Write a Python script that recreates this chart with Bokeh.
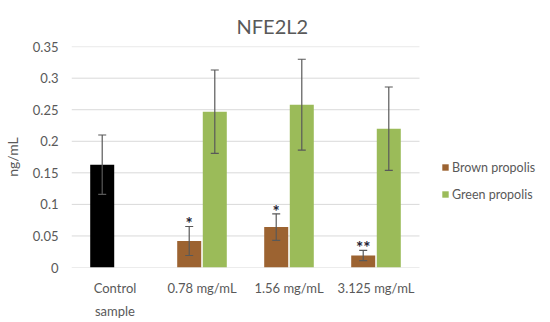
from bokeh.plotting import figure
from bokeh.models import (ColumnDataSource, Whisker, TeeHead, Legend,
                          LegendItem, Range1d, Title, FixedTicker)
from bokeh.core.properties import value
from bokeh.embed import file_html
from bokeh.resources import INLINE

categories = ["Control\nsample", "0.78 mg/mL", "1.56 mg/mL", "3.125 mg/mL"]
control_value = [0.163]
control_err = [0.047]
brown_values = [0.042, 0.064, 0.019]
brown_err = [0.023, 0.021, 0.008]
green_values = [0.247, 0.258, 0.220]
green_err = [0.066, 0.072, 0.066]
brown_marks = ["*", "*", "**"]
y_ticks = [0, 0.05, 0.1, 0.15, 0.2, 0.25, 0.3, 0.35]
y_tick_labels = ["0", "0.05", "0.1", "0.15", "0.2", "0.25", "0.3", "0.35"]

FONT = "Lato"
GRAY = "#595959"
BLACK = "#000000"
BROWN = "#9C6331"
GREEN = "#9BBB59"
OFF = 0.147
BW = 0.276

centers = [i + 0.5 for i in range(len(categories))]
n = len(categories)

ctrl = ColumnDataSource(dict(
    x=[c - OFF for c in centers[:1]], top=control_value,
    up=[v + e for v, e in zip(control_value, control_err)],
    lo=[v - e for v, e in zip(control_value, control_err)]))
brown = ColumnDataSource(dict(
    x=[c - OFF for c in centers[1:]], top=brown_values,
    up=[v + e for v, e in zip(brown_values, brown_err)],
    lo=[v - e for v, e in zip(brown_values, brown_err)],
    mark=brown_marks,
    my=[v + e + 0.004 for v, e in zip(brown_values, brown_err)]))
green = ColumnDataSource(dict(
    x=[c + OFF for c in centers[1:]], top=green_values,
    up=[v + e for v, e in zip(green_values, green_err)],
    lo=[v - e for v, e in zip(green_values, green_err)]))

# frame spans to the right canvas edge so the legend sits inside it
p = figure(frame_width=468, frame_height=221, output_backend="svg", toolbar_location=None,
           x_range=Range1d(0, 468 / 87), y_range=Range1d(0, 0.3502),
           min_border_left=66, min_border_right=0, min_border_top=46, min_border_bottom=46)
p.outline_line_color = None
p.background_fill_color = "white"
p.border_fill_color = "white"
p.xgrid.grid_line_color = None
p.ygrid.grid_line_color = None

# horizontal gridlines only across the category area
p.segment(x0=[0] * len(y_ticks), x1=[n] * len(y_ticks), y0=y_ticks, y1=y_ticks,
          line_color="#d9d9d9", line_width=1)

r_ctrl = p.vbar(x="x", top="top", width=BW, source=ctrl, fill_color=BLACK, line_color=None)
r_brown = p.vbar(x="x", top="top", width=BW, source=brown, fill_color=BROWN, line_color=None)
r_green = p.vbar(x="x", top="top", width=BW, source=green, fill_color=GREEN, line_color=None)

for src in (ctrl, brown, green):
    w = Whisker(source=src, base="x", upper="up", lower="lo",
                line_color=GRAY, line_width=1.2, level="overlay",
                upper_head=TeeHead(size=8, line_color=GRAY, line_width=1.2),
                lower_head=TeeHead(size=8, line_color=GRAY, line_width=1.2))
    p.add_layout(w)

p.text(x="x", y="my", text="mark", source=brown,
       text_align="center", text_baseline="middle", text_font=value(FONT),
       text_font_size="17px", text_font_style="bold", text_color="#222233")

p.xaxis.ticker = FixedTicker(ticks=centers)
p.xaxis.major_label_overrides = {c: lab for c, lab in zip(centers, categories)}
p.yaxis.ticker = FixedTicker(ticks=y_ticks)
p.yaxis.major_label_overrides = {t: lab for t, lab in zip(y_ticks, y_tick_labels)}

for ax in (p.xaxis[0], p.yaxis[0]):
    ax.axis_line_color = None
    ax.major_tick_line_color = None
    ax.minor_tick_line_color = None
    ax.major_tick_out = 0
    ax.major_tick_in = 0
    ax.minor_tick_out = 0
    ax.minor_tick_in = 0
    ax.major_label_text_font = FONT
    ax.major_label_text_font_size = "13px"
    ax.major_label_text_color = GRAY
p.yaxis.major_label_standoff = 13
p.xaxis.major_label_standoff = 12
p.xaxis.major_label_text_line_height = 1.45
p.yaxis.axis_label = "ng/mL"
p.yaxis.axis_label_text_font = FONT
p.yaxis.axis_label_text_font_size = "14px"
p.yaxis.axis_label_text_font_style = "normal"
p.yaxis.axis_label_text_color = GRAY
p.yaxis.axis_label_standoff = 9

title = Title(text="NFE2L2", align="left", offset=165, standoff=17, text_font=FONT,
              text_font_size="20px", text_font_style="normal", text_color=GRAY)
p.add_layout(title, "above")

legend = Legend(items=[LegendItem(label="Brown propolis", renderers=[r_brown]),
                       LegendItem(label="Green propolis", renderers=[r_green])],
                location=(370, 63), glyph_width=8, glyph_height=8, label_standoff=3,
                label_height=20, spacing=7, padding=0, margin=0, border_line_color=None,
                background_fill_alpha=0, label_text_font=FONT, label_text_font_size="12.5px",
                label_text_color=GRAY)
p.add_layout(legend, "center")

open("out.html", "w").write(file_html(p, INLINE))
